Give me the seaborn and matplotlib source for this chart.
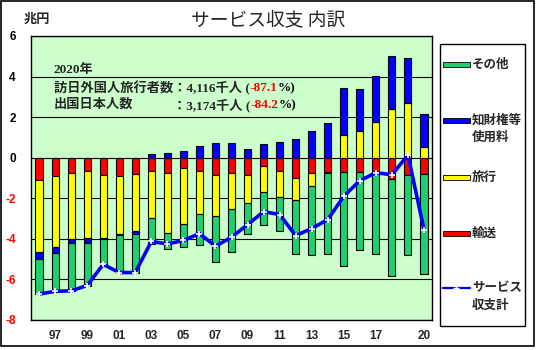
import numpy as np
import pandas as pd
import matplotlib
matplotlib.use("Agg")
import matplotlib.pyplot as plt
import seaborn as sns
from matplotlib.patches import Rectangle
from matplotlib.lines import Line2D

# ---------------- data (trillion yen) ----------------
years = list(range(1996, 2021))
transport = [-1.08, -0.92, -0.74, -0.64, -0.84, -0.89, -0.79, -0.66, -0.74, -0.49,
             -0.66, -0.84, -0.74, -0.84, -0.39, -0.64, -1.00, -0.74, -0.69, -0.69,
             -0.69, -0.71, -1.03, -0.87, -0.79]
travel = [-3.59, -3.48, -3.25, -3.34, -3.10, -2.85, -2.84, -2.30, -2.95, -2.80,
          -2.10, -2.02, -1.77, -1.38, -1.28, -1.30, -1.07, -0.64, -0.05, 1.10,
          1.33, 1.77, 2.41, 2.71, 0.52]
ip_fees = [-0.34, -0.30, -0.20, -0.20, -0.07, -0.07, -0.11, 0.16, 0.21, 0.31,
           0.56, 0.74, 0.74, 0.44, 0.69, 0.79, 0.93, 1.33, 1.72, 2.34,
           2.06, 2.26, 2.61, 2.21, 1.64]
other = [-1.71, -1.87, -2.38, -2.12, -1.26, -1.85, -1.92, -1.30, -0.79, -1.13,
         -1.52, -2.26, -2.16, -1.52, -1.66, -1.66, -2.69, -3.44, -4.03, -4.66,
         -3.84, -4.06, -4.82, -3.95, -4.92]
total = [-6.72, -6.59, -6.56, -6.30, -5.26, -5.66, -5.66, -4.13, -4.25, -4.08,
         -3.74, -4.36, -3.92, -3.30, -2.66, -2.80, -3.84, -3.49, -3.05, -1.90,
         -1.13, -0.74, -0.84, 0.13, -3.54]
x_tick_text = {1997: "97", 1999: "99", 2001: "01", 2003: "03", 2005: "05", 2007: "07",
               2009: "09", 2011: "11", 2013: "13", 2015: "15", 2017: "17", 2020: "20"}
y_ticks = [-8, -6, -4, -2, 0, 2, 4, 6]

series_names = ["輸送", "旅行", "知財権等使用料", "その他"]
series_vals = [transport, travel, ip_fees, other]
series_cols = ["#FF0000", "#FFFF00", "#0000FF", "#1ECF6E"]

# ---------------- figure ----------------
sns.set_theme(style="white")
plt.rcParams["font.family"] = ["Liberation Sans", "Noto Sans CJK JP", "DejaVu Sans"]

W, H = 536, 350
fig = plt.figure(figsize=(W / 100, H / 100), dpi=100)
fig.patch.set_facecolor("white")
ax = fig.add_axes([31 / W, 30 / H, 401 / W, 284 / H])
ax.set_facecolor("#CCFFCC")

labels = [str(y) for y in years]
pos_base = np.zeros(len(years))
neg_base = np.zeros(len(years))
for name, vals, col in zip(series_names, series_vals, series_cols):
    v = np.array(vals, dtype=float)
    bottom = np.where(v >= 0, pos_base, neg_base)
    df = pd.DataFrame({"year": labels, "val": v})
    sns.barplot(data=df, x="year", y="val", order=labels, color=col, saturation=1,
                width=0.44, bottom=bottom, edgecolor="black", linewidth=0.8,
                errorbar=None, ax=ax, zorder=2)
    pos_base = pos_base + np.where(v >= 0, v, 0)
    neg_base = neg_base + np.where(v < 0, v, 0)

sns.lineplot(x=np.arange(len(years)), y=total, color="#0000FF", lw=2.6,
             marker="+", ms=5, mec="white", mew=1.2, ax=ax, zorder=5)

ax.set_xlim(-0.5, len(years) - 0.5)
ax.set_ylim(-8, 6)
ax.set_yticks(y_ticks)
ax.set_yticklabels([str(t) for t in y_ticks], fontsize=8.5, fontweight="bold")
for lbl, t in zip(ax.get_yticklabels(), y_ticks):
    lbl.set_color("#FF0000" if t < 0 else "black")
ax.set_xticks(range(len(years)))
ax.set_xticklabels([x_tick_text.get(y, "") for y in years], fontsize=8.5, fontweight="bold")
ax.tick_params(axis="y", length=0, pad=11)
ax.tick_params(axis="x", length=0, pad=7)
ax.set_xlabel("")
ax.set_ylabel("")
ax.yaxis.grid(True, color="black", lw=0.8)
ax.xaxis.grid(False)
ax.set_axisbelow(True)
for s in ax.spines.values():
    s.set_color("black")
    s.set_linewidth(1.0)

# ---------------- overlay (pixel coordinates) ----------------
ov = fig.add_axes([0, 0, 1, 1], zorder=10)
ov.set_xlim(0, W)
ov.set_ylim(H, 0)
ov.axis("off")
ov.patch.set_alpha(0)

ov.add_patch(Rectangle((0.5, 0.5), 533.5, 345.5, fill=False, edgecolor="black", lw=1.2))

ov.text(268, 20, "サービス収支 内訳", ha="center", va="center", fontsize=13.5,
        family=["Noto Sans CJK JP", "DejaVu Sans"])
ov.text(37, 19, "兆円", ha="center", va="center", fontsize=9.5, fontweight="bold",
        family=["Noto Sans CJK JP", "DejaVu Sans"])

afam = ["Liberation Serif", "Noto Sans CJK JP", "DejaVu Sans"]
akw = dict(fontsize=9.5, fontweight="bold", family=afam, va="center")
ov.text(54, 70, "2020年", ha="left", **akw)
t1 = ov.text(54, 88, "訪日外国人旅行者数：4,116千人 (", ha="left", **akw)
t2 = ov.annotate("-87.1", xy=(1, 0.5), xycoords=t1, ha="left", color="#FF0000", **akw)
ov.annotate("%)", xy=(1, 0.5), xycoords=t2, ha="left", color="black", **akw)
ov.text(54, 105, "出国日本人数", ha="left", **akw)
t4 = ov.text(173, 105, "：3,174千人 (", ha="left", **akw)
t5 = ov.annotate("-84.2", xy=(1, 0.5), xycoords=t4, ha="left", color="#FF0000", **akw)
ov.annotate("%)", xy=(1, 0.5), xycoords=t5, ha="left", color="black", **akw)

# legend box
ov.add_patch(Rectangle((440, 44), 85, 282, fill=False, edgecolor="black", lw=1.0))
lkw = dict(fontsize=9, fontweight="bold", family=["Noto Sans CJK JP", "DejaVu Sans"],
           ha="left", va="center")
leg_items = [("その他", series_cols[3], 64), ("知財権等\n使用料", series_cols[2], 120),
             ("旅行", series_cols[1], 177), ("輸送", series_cols[0], 233)]
for txt, col, yy in leg_items:
    ov.add_patch(Rectangle((443, yy - 2.5), 27, 5, facecolor=col, edgecolor="black", lw=0.6))
    lines = txt.split("\n")
    for k, ln in enumerate(lines):
        ov.text(472, yy + 17 * k, ln, **lkw)
ov.add_line(Line2D([443, 470], [288, 288], color="#0000FF", lw=1.6))
ov.add_line(Line2D([456], [288], color="white", marker="+", ms=4, mew=1.0, lw=0))
ov.text(472, 288, "サービス", **lkw)
ov.text(472, 305, "収支計", **lkw)

fig.savefig("out.png", dpi=100, facecolor="white")
